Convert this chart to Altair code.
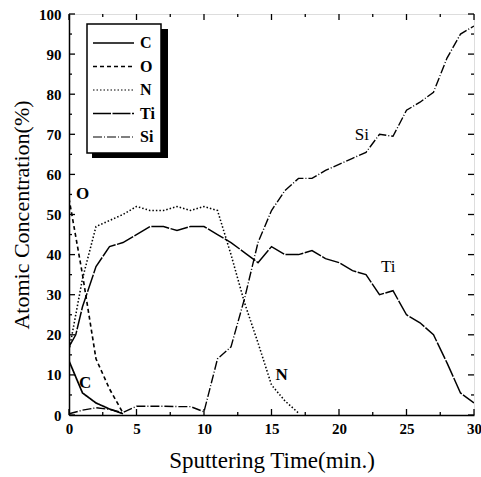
import altair as alt
import pandas as pd

# ---- data ----
series_names = ["C", "O", "N", "Ti", "Si"]

t_C = [0, 1, 2, 3, 4]
v_C = [13.5, 5.5, 3, 1.5, 0.3]

t_O = [0, 1, 2, 3, 4]
v_O = [54, 35, 14, 6.5, 0.5]

t_N = [0, 1, 2, 3, 4, 5, 6, 7, 8, 9, 10, 11, 12, 13, 14, 15, 16, 17]
v_N = [16, 34, 47, 48.5, 50, 52, 51, 51, 52, 51, 52, 51, 40, 28, 18, 7.5, 3.5, 0.5]

t_Ti = [0, 0.5, 1, 2, 3, 4, 5, 6, 7, 8, 9, 10, 11, 12, 13, 14, 15, 16, 17, 18,
        19, 20, 21, 22, 23, 24, 25, 26, 27, 28, 29, 30]
v_Ti = [17, 20, 27, 37, 42, 43, 45, 47, 47, 46, 47, 47, 45, 43, 40.5, 38, 42, 40, 40, 41,
        39, 38, 36, 35, 30, 31, 25, 23, 20, 13, 5.5, 3]

t_Si = list(range(0, 31))
v_Si = [0.3, 1.2, 1.8, 1.4, 0.6, 2.2, 2.2, 2.2, 2.1, 2.1, 0.8, 14, 17, 29, 43, 51,
        56, 59, 59, 61, 62.5, 64, 65.5, 70, 69.5, 76, 78, 80.5, 89, 95, 97]

label_text = ["O", "C", "N", "Ti", "Si"]
label_t = [1.0, 1.2, 15.75, 23.65, 21.7]
label_v = [55, 8, 10, 36.8, 69.8]
label_weight = ["bold", "bold", "bold", "normal", "normal"]

x_major = [0, 5, 10, 15, 20, 25, 30]
x_minor = [2.5, 7.5, 12.5, 17.5, 22.5, 27.5]
y_major = [0, 10, 20, 30, 40, 50, 60, 70, 80, 90, 100]
y_minor = [5, 15, 25, 35, 45, 55, 65, 75, 85, 95]

# ---- styles ----
dashes = [[1, 0], [4, 3], [1.5, 2], [18, 1.5], [9, 2, 1, 2]]
widths = [1.7, 1.4, 1.1, 1.3, 1.1]

W, H = 405, 401
SERIF = "Liberation Serif"

rows = []
for name, ts, vs in [("C", t_C, v_C), ("O", t_O, v_O), ("N", t_N, v_N),
                     ("Ti", t_Ti, v_Ti), ("Si", t_Si, v_Si)]:
    for t, v in zip(ts, vs):
        rows.append({"series": name, "t": t, "v": v})
df = pd.DataFrame(rows)

xs = alt.Scale(domain=[0, 30], nice=False)
ys = alt.Scale(domain=[0, 100], nice=False)

lines = alt.Chart(df).mark_line(color="black", clip=True).encode(
    x=alt.X("t:Q", scale=xs,
            axis=alt.Axis(title="Sputtering Time(min.)", values=x_major, ticks=False,
                          grid=False, domainColor="black", domainWidth=1.5,
                          labelFont=SERIF, labelFontWeight="bold", labelFontSize=15,
                          labelColor="black", labelPadding=6, labelFlush=False,
                          titleFont=SERIF, titleFontWeight="normal", titleFontSize=23,
                          titleColor="black", titlePadding=13)),
    y=alt.Y("v:Q", scale=ys,
            axis=alt.Axis(title="Atomic Concentration(%)", values=y_major, ticks=False,
                          grid=False, domainColor="black", domainWidth=1.5,
                          labelFont=SERIF, labelFontWeight="bold", labelFontSize=15,
                          labelColor="black", labelPadding=8, labelFlush=False,
                          titleFont=SERIF, titleFontWeight="normal", titleFontSize=22,
                          titleColor="black", titlePadding=5)),
    detail="series:N",
    strokeDash=alt.StrokeDash("series:N", scale=alt.Scale(domain=series_names, range=dashes),
                              legend=None),
    strokeWidth=alt.StrokeWidth("series:N", scale=alt.Scale(domain=series_names, range=widths),
                                legend=None),
)

lab_layers = []
for txt, t, v, wt in zip(label_text, label_t, label_v, label_weight):
    d = pd.DataFrame({"label": [txt], "t": [t], "v": [v]})
    lab_layers.append(alt.Chart(d).mark_text(font=SERIF, fontWeight=wt, fontSize=17,
                                             color="black").encode(
        x=alt.X("t:Q", scale=xs), y=alt.Y("v:Q", scale=ys), text="label:N"))

# inward ticks
def xticks(vals, length):
    d = pd.DataFrame({"t": vals})
    bot = alt.Chart(d).mark_rule(color="black", strokeWidth=1.3).encode(
        x=alt.X("t:Q", scale=xs), y=alt.value(H), y2=alt.value(H - length))
    top = alt.Chart(d).mark_rule(color="black", strokeWidth=1.3).encode(
        x=alt.X("t:Q", scale=xs), y=alt.value(0), y2=alt.value(length))
    return [bot, top]

def yticks(vals, length):
    d = pd.DataFrame({"v": vals})
    left = alt.Chart(d).mark_rule(color="black", strokeWidth=1.3).encode(
        y=alt.Y("v:Q", scale=ys), x=alt.value(0), x2=alt.value(length))
    right = alt.Chart(d).mark_rule(color="black", strokeWidth=1.3).encode(
        y=alt.Y("v:Q", scale=ys), x=alt.value(W), x2=alt.value(W - length))
    return [left, right]

ticks = xticks(x_major, 6) + xticks(x_minor, 3) + yticks(y_major, 6) + yticks(y_minor, 3)

# legend box
one = pd.DataFrame({"a": [0]})
shadow = alt.Chart(one).mark_rect(color="black").encode(
    x=alt.value(23), x2=alt.value(99), y=alt.value(15), y2=alt.value(144))
box = alt.Chart(one).mark_rect(fill="white", stroke="black", strokeWidth=1.5).encode(
    x=alt.value(18), x2=alt.value(92), y=alt.value(10), y2=alt.value(139))
leg = [shadow, box]
for i, name in enumerate(series_names):
    py = 29 + 23.5 * i
    leg.append(alt.Chart(one).mark_rule(color="black", strokeDash=dashes[i],
                                        strokeWidth=widths[i]).encode(
        x=alt.value(24), x2=alt.value(65), y=alt.value(py)))
    leg.append(alt.Chart(one).mark_text(text=name, font=SERIF, fontWeight="bold",
                                        fontSize=16, color="black", align="left",
                                        baseline="middle").encode(
        x=alt.value(71), y=alt.value(py)))

chart = alt.layer(lines, *lab_layers, *ticks, *leg).properties(
    width=W, height=H,
    autosize=alt.AutoSizeParams(type="none"),
    padding={"left": 69, "top": 14, "right": 7, "bottom": 62},
).configure_view(stroke="black", strokeWidth=1.5).configure(background="white")

chart.save("out.html", embed_options={"renderer": "svg", "actions": False})
